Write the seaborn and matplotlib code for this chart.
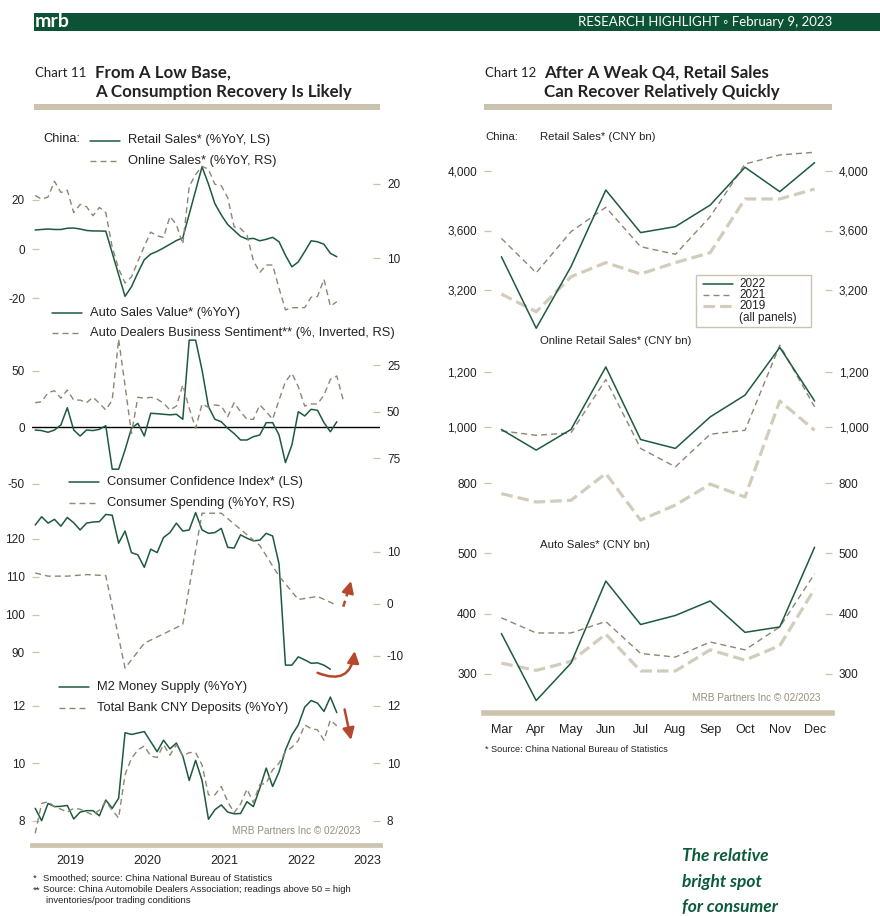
import matplotlib

matplotlib.use("Agg")
import matplotlib.pyplot as plt
import matplotlib.ticker as mticker
import numpy as np
import seaborn as sns
from matplotlib.lines import Line2D
from matplotlib.patches import FancyArrowPatch, Rectangle

sns.set_style("white")
plt.rcParams["font.family"] = ["Liberation Sans", "DejaVu Sans"]
plt.rcParams["axes.unicode_minus"] = False

W, H = 880, 916

GREEN = "#1d5a3e"
TAN_DARK = "#8f8574"
TAN_LIGHT = "#d3ccbc"
AXIS_TAN = "#cbc3ae"
HEADER_GREEN = "#0b5334"
ARROW_RED = "#b5482c"
INK = "#222222"
NOTE_GREY = "#978e7d"
TITLE_FONT = ["Lato", "DejaVu Sans"]

nan = np.nan

# ---- Chart 11: monthly readings, Jan 2019 .. Dec 2022 (nan = no reading)
retail_sales_yoy = [
    7.8, 8.0, 8.2, 8.0, 8.0, 8.5, 8.6, 8.2, 7.6, 7.4, 7.4, 7.3,
    nan, nan, -19.2, -15.3, -9.6, -4.3, -2.0, -0.9, 0.5, 2.0, 3.5, 4.6,
    nan, nan, 33.5, 26.5, 18.5, 13.9, 10.0, 7.6, 5.2, 4.1, 4.4, 3.4,
    4.0, 4.8, 3.0, -2.5, -7.2, -5.2, -1.0, 3.4, 3.0, 2.0, -1.7, -3.1,
]
online_sales_yoy = [
    18.4, 17.9, 18.2, 20.3, 18.8, 19.1, 16.1, 17.2, 16.9, 15.7, 16.8, 16.1,
    11.5, 8.6, 6.7, 7.5, 9.6, 11.6, 13.5, 13.0, 12.8, 15.6, 14.5, 11.9,
    19.6, 21.2, 22.3, 21.9, 19.9, 19.7, 18.1, 14.2, 14.0, 13.1, 9.7, 8.1,
    9.1, 9.1, 6.0, 3.1, 3.4, 3.4, 3.4, 4.8, 4.9, 7.2, 3.6, 4.2,
]
auto_sales_yoy = [
    -2.4, -2.9, -4.4, -2.4, 2.0, 17.3, -2.4, -7.7, -2.4, -2.9, -1.8, 1.4,
    -37.0, -37.0, -20.0, -0.9, 3.5, -7.7, 12.4, 12.0, 11.5, 11.0, 11.5, 7.1,
    77.0, 77.0, 50.6, 18.2, 7.1, 4.9, -0.9, -5.5, -11.2, -11.2, -8.3, -6.8,
    4.1, 4.1, -6.8, -31.2, -15.6, 13.8, 10.0, 15.9, 15.0, 4.1, -3.9, 4.9,
]
# Jan 2019 .. Jan 2023
auto_dealer_index = [
    45.2, 44.7, 39.8, 38.8, 42.8, 38.4, 43.8, 43.8, 45.2, 42.3, 45.5, 49.1,
    43.8, 11.2, 36.0, 61.6, 42.3, 42.8, 42.3, 43.3, 45.5, 49.1, 47.0, 35.7,
    48.2, 58.9, 45.9, 47.7, 46.4, 46.9, 52.7, 45.2, 50.0, 54.1, 54.1, 46.4,
    50.0, 54.1, 43.8, 33.9, 29.5, 36.6, 47.0, 45.9, 45.9, 41.1, 32.7, 30.9,
    43.8,
]
consumer_confidence = [
    123.7, 125.9, 124.2, 125.2, 123.4, 125.7, 124.3, 122.4, 124.2, 124.5, 124.6, 126.5,
    126.3, 118.9, 122.1, 116.4, 115.8, 112.5, 117.3, 116.4, 120.4, 121.7, 124.2, 122.1,
    122.4, 127.0, 122.4, 121.5, 121.7, 122.8, 117.8, 117.6, 121.1, 120.2, 119.5, 119.7,
    121.5, 120.8, 113.4, 86.6, 86.6, 88.8, 88.0, 87.1, 87.2, 86.6, 85.5, nan,
]
# quarterly: month index since Jan 2019
spending_month = [0, 2, 5, 8, 11, 14, 17, 23, 26, 29, 35, 38, 41, 44, 47]
consumer_spending_yoy = [5.9, 5.3, 5.3, 5.6, 5.4, -12.4, -7.6, -4.0, 17.4, 17.4,
                         11.2, 5.3, 0.8, 1.4, -0.3]
m2_yoy = [
    8.43, 8.0, 8.6, 8.49, 8.5, 8.53, 8.06, 8.3, 8.35, 8.35, 8.17, 8.72,
    8.43, 8.78, 11.06, 11.0, 11.05, 11.1, 10.75, 10.4, 10.8, 10.5, 10.7, 10.25,
    9.4, 10.1, 9.4, 8.05, 8.38, 8.55, 8.3, 8.24, 8.25, 8.66, 8.49, 9.13,
    9.83, 9.19, 9.7, 10.46, 10.98, 11.33, 11.95, 12.18, 12.09, 11.8, 12.3, 11.76,
]
deposits_yoy = [
    7.56, 8.6, 8.66, 8.49, 8.4, 8.3, 8.43, 8.4, 8.3, 8.2, 8.37, 8.66,
    8.37, 8.09, 9.6, 10.17, 10.46, 10.6, 10.25, 10.2, 10.64, 10.28, 10.64, 10.25,
    10.37, 10.37, 9.94, 8.9, 8.9, 9.19, 8.66, 8.28, 8.58, 9.1, 8.63, 9.26,
    9.3, 9.77, 10.0, 10.4, 10.55, 10.79, 11.33, 11.2, 11.16, 10.8, 11.5, 11.3,
]
years = [2019, 2020, 2021, 2022, 2023]

# ---- Chart 12: Mar .. Dec, CNY bn
months = ["Mar", "Apr", "May", "Jun", "Jul", "Aug", "Sep", "Oct", "Nov", "Dec"]
retail_2022 = [3424, 2943, 3357, 3872, 3586, 3626, 3771, 4025, 3861, 4056]
retail_2021 = [3547, 3316, 3592, 3756, 3491, 3440, 3693, 4047, 4108, 4126]
retail_2019 = [3173, 3054, 3289, 3384, 3308, 3384, 3451, 3812, 3812, 3879]
online_2022 = [993, 919, 993, 1217, 957, 925, 1038, 1116, 1287, 1095]
online_2021 = [988, 972, 981, 1172, 925, 859, 976, 990, 1295, 1074]
online_2019 = [763, 733, 739, 835, 668, 722, 797, 751, 1095, 990]
auto_2022 = [367, 256, 318, 454, 382, 397, 421, 369, 378, 510]
auto_2021 = [393, 368, 368, 387, 334, 328, 353, 340, 378, 466]
auto_2019 = [318, 306, 321, 366, 305, 305, 340, 323, 347, 441]

SOLID = dict(color=GREEN, linewidth=1.1)
DASHED = dict(color=TAN_DARK, linewidth=1.0, linestyle=(0, (4.3, 2.9)))
THICK_DASHED = dict(color=TAN_LIGHT, linewidth=2.3, linestyle=(0, (3.6, 1.6)))

fig = plt.figure(figsize=(W / 100, H / 100), dpi=100)

canvas = fig.add_axes([0, 0, 1, 1], zorder=-5)
canvas.set_xlim(0, W)
canvas.set_ylim(H, 0)
canvas.axis("off")


def px_axes(left, top, right, bottom):
    """Axes placed by pixel box, transparent and without spines."""
    ax = fig.add_axes([left / W, 1 - bottom / H, (right - left) / W, (bottom - top) / H])
    ax.set_facecolor("none")
    for s in ax.spines.values():
        s.set_visible(False)
    return ax


def bare_twin(ax):
    rax = ax.twinx()
    rax.set_facecolor("none")
    for s in rax.spines.values():
        s.set_visible(False)
    return rax


def fit_ylim(ax, top, bottom, ref_a, ref_b):
    """Set y limits so the two reference values fall on the given pixel rows."""
    (va, pa), (vb, pb) = ref_a, ref_b
    per_px = (va - vb) / (pb - pa)
    ax.set_ylim(va - (bottom - pa) * per_px, va + (pa - top) * per_px)


def style_y(ax, ticks, side, fmt=None):
    ax.set_yticks(ticks)
    ax.yaxis.set_ticks_position(side)
    ax.tick_params(axis="y", direction="in", length=5, width=0.9, color=AXIS_TAN,
                   labelsize=8.5, labelcolor=INK, pad=5)
    ax.tick_params(axis="x", bottom=False, top=False, labelbottom=False)
    if fmt:
        ax.yaxis.set_major_formatter(fmt)
    ax.set_xlabel("")
    ax.set_ylabel("")


def draw(ax, x, y, style):
    x = np.asarray(x, dtype=float)
    y = np.asarray(y, dtype=float)
    keep = ~np.isnan(y)
    sns.lineplot(x=x[keep], y=y[keep], ax=ax, estimator=None, **style)


def key(x0, y, label, style, size=9.3, length=30, gap=8):
    canvas.add_line(Line2D([x0, x0 + length], [y, y], **style))
    canvas.text(x0 + length + gap, y, label, va="center", fontsize=size, color=INK)


# ---------------- header and titles
canvas.add_patch(Rectangle((34, 13.3), W - 34, 17.4, color=HEADER_GREEN, lw=0))
canvas.text(35, 21.5, "mrb", color="white", fontsize=14, fontweight="bold", va="center",
            family=TITLE_FONT)
canvas.text(832, 22, "RESEARCH HIGHLIGHT \u25e6 February 9, 2023", color="white",
            fontsize=9.5, ha="right", va="center", family=TITLE_FONT)

for x_lab, x_tit, label, line1, line2, x_end in [
    (35, 95, "Chart 11", "From A Low Base,", "A Consumption Recovery Is Likely", 380),
    (485, 544, "Chart 12", "After A Weak Q4, Retail Sales", "Can Recover Relatively Quickly", 832),
]:
    canvas.text(x_lab, 73, label, fontsize=9.5, va="center", color=INK, family=TITLE_FONT)
    canvas.text(x_tit, 72.5, line1, fontsize=12.2, fontweight="bold", va="center",
                color=INK, family=TITLE_FONT)
    canvas.text(x_tit, 92.5, line2, fontsize=12.2, fontweight="bold", va="center",
                color=INK, family=TITLE_FONT)
    canvas.add_patch(Rectangle((x_lab - 1, 103.5), x_end - x_lab + 1, 6.5, color=AXIS_TAN, lw=0))

# ---------------- Chart 11 (left)
LX0, LX1 = 32, 380
x_start, x_end = 2019.0, 2019 + (LX1 - LX0) / 77
t48 = 2019 + (np.arange(48) + 0.5) / 12
t49 = 2019 + (np.arange(49) + 0.5) / 12
t_spend = 2019 + (np.array(spending_month) + 0.5) / 12

# panel 1: retail / online
ax1 = px_axes(LX0, 120, LX1, 318)
rx1 = bare_twin(ax1)
draw(ax1, t48, retail_sales_yoy, SOLID)
draw(rx1, t48, online_sales_yoy, DASHED)
fit_ylim(ax1, 120, 318, (20, 200), (-20, 298.3))
fit_ylim(rx1, 120, 318, (20, 183.5), (10, 258.3))
style_y(ax1, [-20, 0, 20], "left")
style_y(rx1, [10, 20], "right")

# panel 2: autos
ax2 = px_axes(LX0, 300, LX1, 490)
rx2 = bare_twin(ax2)
ax2.axhline(0, color="black", linewidth=1.0)
draw(ax2, t48, auto_sales_yoy, SOLID)
draw(rx2, t49, auto_dealer_index, DASHED)
fit_ylim(ax2, 300, 490, (50, 370.7), (-50, 483.9))
fit_ylim(rx2, 300, 490, (25, 365), (75, 458.3))
style_y(ax2, [-50, 0, 50], "left")
style_y(rx2, [25, 50, 75], "right")

# panel 3: confidence / spending
ax3 = px_axes(LX0, 470, LX1, 680)
rx3 = bare_twin(ax3)
draw(ax3, t48, consumer_confidence, SOLID)
draw(rx3, t_spend, consumer_spending_yoy, DASHED)
fit_ylim(ax3, 470, 680, (120, 539), (90, 652.3))
fit_ylim(rx3, 470, 680, (10, 551.7), (-10, 655.7))
style_y(ax3, [90, 100, 110, 120], "left")
style_y(rx3, [-10, 0, 10], "right")

# panel 4: money
ax4 = px_axes(LX0, 670, LX1, 838)
rx4 = bare_twin(ax4)
draw(ax4, t48, m2_yoy, SOLID)
draw(ax4, t48, deposits_yoy, DASHED)
fit_ylim(ax4, 670, 838, (12, 705.7), (8, 820.7))
fit_ylim(rx4, 670, 838, (12, 705.7), (8, 820.7))
style_y(ax4, [8, 10, 12], "left")
style_y(rx4, [8, 10, 12], "right")

for ax in (ax1, ax2, ax3, ax4):
    ax.set_xlim(x_start, x_end)

# year axis
axx = px_axes(LX0, 828, LX1, 845)
axx.set_xlim(x_start, x_end)
axx.spines["bottom"].set_visible(True)
axx.spines["bottom"].set_color(AXIS_TAN)
axx.spines["bottom"].set_linewidth(3.4)
axx.set_yticks([])
axx.set_xticks(years)
axx.xaxis.set_major_formatter(mticker.NullFormatter())
axx.xaxis.set_minor_locator(mticker.FixedLocator([y + 0.5 for y in years[:-1]] + [2023.35]))
axx.xaxis.set_minor_formatter(mticker.FixedFormatter([str(y) for y in years]))
axx.tick_params(axis="x", which="major", direction="in", length=6.5, width=1, color=AXIS_TAN)
axx.tick_params(axis="x", which="minor", length=0, labelsize=9, labelcolor=INK, pad=7)

# legends
canvas.text(43, 139, "China:", va="center", fontsize=9.3, color=INK)
key(90, 140.5, "Retail Sales* (%YoY, LS)", SOLID)
key(90, 161, "Online Sales* (%YoY, RS)", DASHED)
key(52, 313.3, "Auto Sales Value* (%YoY)", SOLID)
key(52, 333.3, "Auto Dealers Business Sentiment** (%, Inverted, RS)", DASHED)
key(69, 482.3, "Consumer Confidence Index* (LS)", SOLID)
key(69, 503.3, "Consumer Spending (%YoY, RS)", DASHED)
key(59, 687.3, "M2 Money Supply (%YoY)", SOLID)
key(59, 708.3, "Total Bank CNY Deposits (%YoY)", DASHED)

# arrows
canvas.add_line(Line2D([343.3, 349.6], [606.7, 586], color=ARROW_RED, linewidth=1.8,
                       linestyle=(0, (2.5, 1.8))))
arrow_style = "-|>,head_length=0.7,head_width=0.35"
canvas.add_patch(FancyArrowPatch((349.2, 588), (351.7, 578.3), arrowstyle=arrow_style,
                                 mutation_scale=10, color=ARROW_RED, lw=1.8))
canvas.add_patch(FancyArrowPatch((315, 671.7), (355, 648.3), arrowstyle=arrow_style,
                                 connectionstyle="arc3,rad=0.7", mutation_scale=10,
                                 color=ARROW_RED, lw=1.8))
canvas.add_patch(FancyArrowPatch((344, 706.7), (351.7, 742.7), arrowstyle=arrow_style,
                                 mutation_scale=10, color=ARROW_RED, lw=1.8))

canvas.text(360, 830.5, "MRB Partners Inc \u00a9 02/2023", ha="right", va="center",
            fontsize=7.2, color=NOTE_GREY)
for x, y, txt in [
    (33, 878.3, "*"), (43, 878.3, "Smoothed; source: China National Bureau of Statistics"),
    (33, 890, "**"), (43, 890, "Source: China Automobile Dealers Association; readings above 50 = high"),
    (46, 900.7, "inventories/poor trading conditions"),
]:
    canvas.text(x, y, txt, va="center", fontsize=6.8, color=INK)

# ---------------- Chart 12 (right)
RX0, RX1 = 484, 832
mpos = np.arange(len(months))
right_panels = [
    (125, 335, (retail_2019, retail_2021, retail_2022), (4000, 171), (3200, 290), [3200, 3600, 4000]),
    (330, 530, (online_2019, online_2021, online_2022), (1200, 371.7), (800, 483.3), [800, 1000, 1200]),
    (530, 705, (auto_2019, auto_2021, auto_2022), (500, 553.3), (300, 674), [300, 400, 500]),
]
comma = mticker.FuncFormatter(lambda v, _: f"{v:,.0f}")
for top, bottom, (s19, s21, s22), ref_a, ref_b, ticks in right_panels:
    ax = px_axes(RX0, top, RX1, bottom)
    rax = bare_twin(ax)
    draw(ax, mpos, s19, THICK_DASHED)
    draw(ax, mpos, s21, DASHED)
    draw(ax, mpos, s22, SOLID)
    ax.set_xlim(-0.5, len(months) - 0.5)
    fit_ylim(ax, top, bottom, ref_a, ref_b)
    fit_ylim(rax, top, bottom, ref_a, ref_b)
    style_y(ax, ticks, "left", comma)
    style_y(rax, ticks, "right", comma)

axm = px_axes(RX0, 700, RX1, 712.5)
axm.set_xlim(-0.5, len(months) - 0.5)
axm.spines["bottom"].set_visible(True)
axm.spines["bottom"].set_color(AXIS_TAN)
axm.spines["bottom"].set_linewidth(4.0)
axm.set_yticks([])
axm.set_xticks(mpos[:-1] + 0.5)
axm.xaxis.set_major_formatter(mticker.NullFormatter())
axm.xaxis.set_minor_locator(mticker.FixedLocator(mpos))
axm.xaxis.set_minor_formatter(mticker.FixedFormatter(months))
axm.tick_params(axis="x", which="major", direction="in", length=6, width=1, color=AXIS_TAN)
axm.tick_params(axis="x", which="minor", length=0, labelsize=9, labelcolor=INK, pad=8)

canvas.text(485, 137.3, "China:", va="center", fontsize=8.2, color=INK)
canvas.text(540, 137.3, "Retail Sales* (CNY bn)", va="center", fontsize=8.2, color=INK)
canvas.text(540, 341, "Online Retail Sales* (CNY bn)", va="center", fontsize=8.2, color=INK)
canvas.text(540, 545, "Auto Sales* (CNY bn)", va="center", fontsize=8.2, color=INK)

canvas.add_patch(Rectangle((695.7, 275.3), 115, 51.4, fill=False, edgecolor=AXIS_TAN, lw=1))
key(703, 284, "2022", SOLID, size=8.5, gap=6)
key(703, 295, "2021", DASHED, size=8.5, gap=6)
key(703, 305.7, "2019", THICK_DASHED, size=8.5, gap=6)
canvas.text(739, 317.7, "(all panels)", va="center", fontsize=8.5, color=INK)

canvas.text(820, 698.3, "MRB Partners Inc \u00a9 02/2023", ha="right", va="center",
            fontsize=7.2, color=NOTE_GREY)
canvas.text(485, 750, "* Source: China National Bureau of Statistics", va="center",
            fontsize=6.6, color=INK)

# call-out
for y, txt in [(856, "The relative"), (882, "bright spot"), (907.5, "for consumer")]:
    canvas.text(682, y, txt, va="center", fontsize=12.5, fontstyle="italic",
                fontweight="bold", color="#0b5a3a", family=TITLE_FONT)

fig.savefig("out.png", dpi=100)
